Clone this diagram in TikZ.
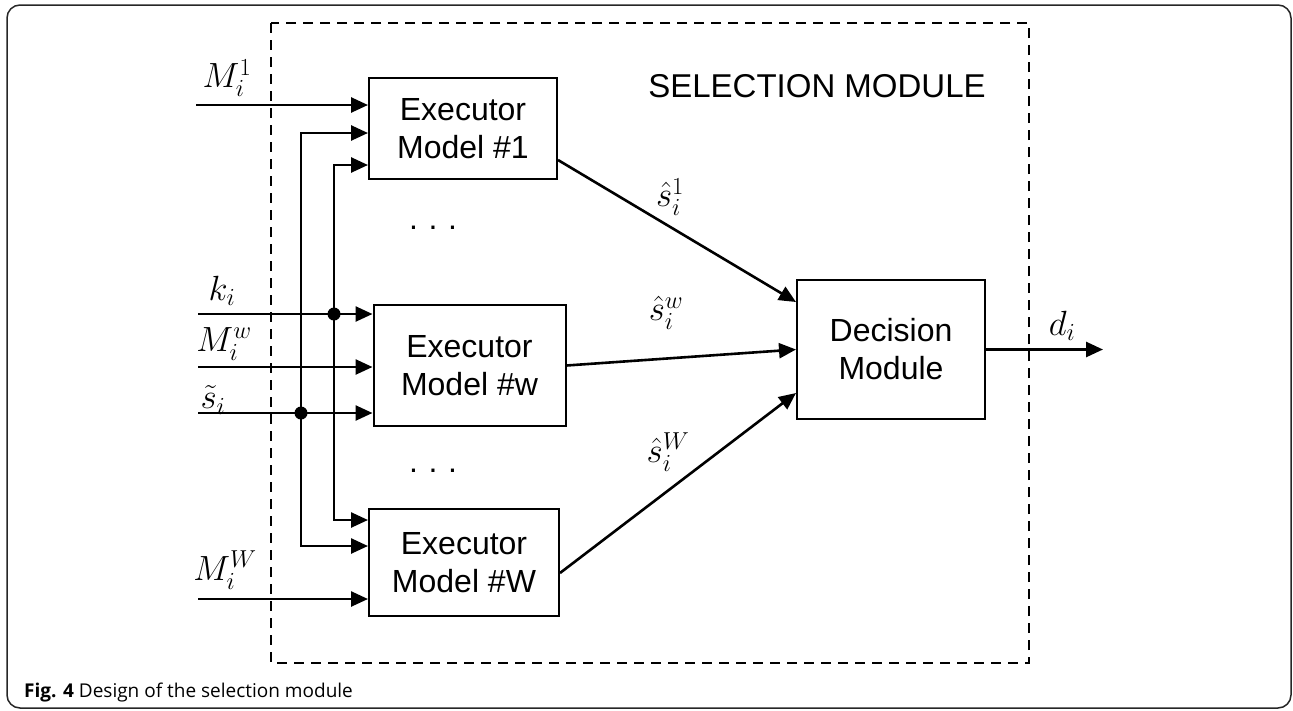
\RequirePackage{fix-cm}
\documentclass[tikz,border=0pt]{standalone}
\usepackage[no-math]{fontspec}
\setmainfont{Liberation Sans}
\newfontfamily\capfont{Open Sans}
\usetikzlibrary{arrows.meta}
\begin{document}
\begin{tikzpicture}[x=1pt,y=-1pt,
  box/.style={draw, line width=2pt, inner sep=0pt, align=center, font=\fontsize{32}{38}\selectfont},
  arr/.style={line width=2.6pt, -{Triangle[length=17pt,width=15pt]}},
  lbl/.style={font=\fontsize{35}{40}\selectfont, inner sep=0pt},
  jdot/.style={circle, fill, inner sep=0pt, minimum size=13pt}]
\useasboundingbox (0,0) rectangle (1293,710);
\draw[line width=1.5pt, rounded corners=13pt, black!85] (7,5) rectangle (1291,708);
\draw[line width=2pt, dash pattern=on 10pt off 7pt] (271,23) rectangle (1029,663);
\node[font=\fontsize{33}{40}\selectfont, inner sep=0pt] (title) at (817,86) {SELECTION MODULE};

\node[box, minimum width=188pt, minimum height=101pt] (e1) at (463,128.5) {Executor\\Model \#1};
\node[box, minimum width=192pt, minimum height=121pt] (ew) at (469.5,365.5) {Executor\\Model \#w};
\node[box, minimum width=190pt, minimum height=107pt] (eW) at (464,562.5) {Executor\\Model \#W};
\node[box, minimum width=188pt, minimum height=139pt] (dm) at (891,349.5) {Decision\\Module};

% free input ends
\coordinate (m1) at (196,105);
\coordinate (ki) at (198,314);
\coordinate (mw) at (198,367);
\coordinate (st) at (198,413);
\coordinate (mW) at (198,599);
\coordinate (out) at (1103,349.5);

% junctions
\node[jdot] (ja) at (301,413) {};
\node[jdot] (jb) at (334,314) {};

% inputs
\draw[arr] (m1) -- (m1 -| e1.west);
\draw[arr] (ki) -- (ki -| ew.west);
\draw[arr] (mw) -- (mw -| ew.west);
\draw[arr] (st) -- (st -| ew.west);
\draw[arr] (mW) -- (mW -| eW.west);
\draw[arr] (ja.center) |- (e1.west |- 0,133);
\draw[arr] (ja.center) |- (eW.west |- 0,546);
\draw[arr] (jb.center) |- (e1.west |- 0,165);
\draw[arr] (jb.center) |- (eW.west |- 0,520);

% outputs
\draw[arr] (e1.east |- 0,160) -- (dm.west |- 0,302);
\draw[arr] (ew.east) -- (dm.west);
\draw[arr] (eW.east |- 0,573) -- (dm.west |- 0,393);
\draw[arr] (dm.east) -- (out);

% labels
\node[lbl] (lm1) at (227,78) {$M_i^1$};
\node[lbl] (lk) at (222,291) {$k_i$};
\node[lbl] (lmw) at (224,344) {$M_i^w$};
\node[lbl] (lst) at (213,400) {$\tilde{s}_i$};
\node[lbl] (lmW) at (225,570) {$M_i^W$};
\node[lbl] (ls1) at (670,197) {$\hat{s}_i^1$};
\node[lbl] (lsw) at (666,313) {$\hat{s}_i^w$};
\node[lbl] (lsW) at (668,452) {$\hat{s}_i^W$};
\node[lbl] (ld) at (1062,326) {$d_i$};

% ellipses
\node[font=\fontsize{32}{38}\selectfont, inner sep=0pt] (dots1) at (433,228) {.\,\,.\,\,.};
\node[font=\fontsize{32}{38}\selectfont, inner sep=0pt] (dots2) at (433,471) {.\,\,.\,\,.};

% caption
\node[anchor=base west, inner sep=0pt, font=\capfont\fontsize{19}{22}\selectfont] (cap) at (24,697) {\textbf{Fig. 4} Design of the selection module};
\end{tikzpicture}
\end{document}
